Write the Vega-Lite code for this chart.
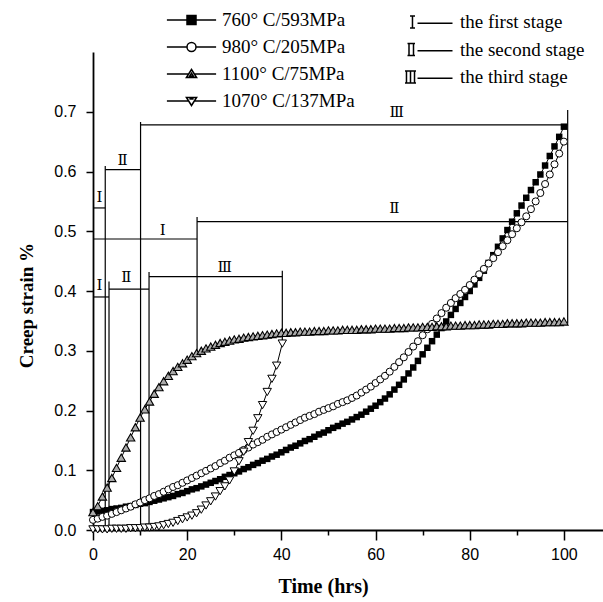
{
  "$schema": "https://vega.github.io/schema/vega-lite/v6.json",
  "width": 510,
  "height": 478,
  "autosize": {"type": "none"},
  "padding": {"left": 93, "top": 52, "right": 0, "bottom": 72},
  "background": "white",
  "config": {"view": {"stroke": null}},
  "datasets": {
    "s760": [
      {"t":0,"v":0.030},{"t":1,"v":0.031},{"t":2,"v":0.032},{"t":3,"v":0.033},{"t":4,"v":0.035},{"t":5,"v":0.036},{"t":6,"v":0.037},{"t":7,"v":0.039},{"t":8,"v":0.040},{"t":9,"v":0.042},
      {"t":10,"v":0.044},{"t":11,"v":0.045},{"t":12,"v":0.047},{"t":13,"v":0.049},{"t":14,"v":0.051},{"t":15,"v":0.053},{"t":16,"v":0.055},{"t":17,"v":0.057},{"t":18,"v":0.060},{"t":19,"v":0.062},
      {"t":20,"v":0.065},{"t":21,"v":0.068},{"t":22,"v":0.070},{"t":23,"v":0.073},{"t":24,"v":0.076},{"t":25,"v":0.079},{"t":26,"v":0.082},{"t":27,"v":0.085},{"t":28,"v":0.089},{"t":29,"v":0.092},
      {"t":30,"v":0.095},{"t":31,"v":0.098},{"t":32,"v":0.102},{"t":33,"v":0.105},{"t":34,"v":0.109},{"t":35,"v":0.112},{"t":36,"v":0.116},{"t":37,"v":0.119},{"t":38,"v":0.123},{"t":39,"v":0.126},
      {"t":40,"v":0.130},{"t":41,"v":0.134},{"t":42,"v":0.138},{"t":43,"v":0.141},{"t":44,"v":0.145},{"t":45,"v":0.149},{"t":46,"v":0.152},{"t":47,"v":0.156},{"t":48,"v":0.160},{"t":49,"v":0.163},
      {"t":50,"v":0.167},{"t":51,"v":0.171},{"t":52,"v":0.174},{"t":53,"v":0.178},{"t":54,"v":0.181},{"t":55,"v":0.185},{"t":56,"v":0.189},{"t":57,"v":0.193},{"t":58,"v":0.198},{"t":59,"v":0.203},
      {"t":60,"v":0.208},{"t":61,"v":0.214},{"t":62,"v":0.220},{"t":63,"v":0.227},{"t":64,"v":0.235},{"t":65,"v":0.243},{"t":66,"v":0.252},{"t":67,"v":0.262},{"t":68,"v":0.272},{"t":69,"v":0.283},
      {"t":70,"v":0.294},{"t":71,"v":0.305},{"t":72,"v":0.316},{"t":73,"v":0.327},{"t":74,"v":0.338},{"t":75,"v":0.349},{"t":76,"v":0.360},{"t":77,"v":0.370},{"t":78,"v":0.380},{"t":79,"v":0.390},
      {"t":80,"v":0.400},{"t":81,"v":0.411},{"t":82,"v":0.422},{"t":83,"v":0.434},{"t":84,"v":0.447},{"t":85,"v":0.460},{"t":86,"v":0.474},{"t":87,"v":0.488},{"t":88,"v":0.502},{"t":89,"v":0.516},
      {"t":90,"v":0.530},{"t":91,"v":0.543},{"t":92,"v":0.556},{"t":93,"v":0.569},{"t":94,"v":0.582},{"t":95,"v":0.595},{"t":96,"v":0.610},{"t":97,"v":0.626},{"t":98,"v":0.642},{"t":99,"v":0.658},
      {"t":100,"v":0.675}
    ],
    "s980": [
      {"t":0,"v":0.017},{"t":1,"v":0.019},{"t":2,"v":0.022},{"t":3,"v":0.024},{"t":4,"v":0.027},{"t":5,"v":0.030},{"t":6,"v":0.033},{"t":7,"v":0.036},{"t":8,"v":0.039},{"t":9,"v":0.043},
      {"t":10,"v":0.046},{"t":11,"v":0.050},{"t":12,"v":0.053},{"t":13,"v":0.057},{"t":14,"v":0.060},{"t":15,"v":0.064},{"t":16,"v":0.068},{"t":17,"v":0.072},{"t":18,"v":0.075},{"t":19,"v":0.079},
      {"t":20,"v":0.083},{"t":21,"v":0.087},{"t":22,"v":0.091},{"t":23,"v":0.095},{"t":24,"v":0.099},{"t":25,"v":0.103},{"t":26,"v":0.107},{"t":27,"v":0.112},{"t":28,"v":0.116},{"t":29,"v":0.121},
      {"t":30,"v":0.125},{"t":31,"v":0.129},{"t":32,"v":0.134},{"t":33,"v":0.138},{"t":34,"v":0.143},{"t":35,"v":0.147},{"t":36,"v":0.151},{"t":37,"v":0.156},{"t":38,"v":0.160},{"t":39,"v":0.164},
      {"t":40,"v":0.168},{"t":41,"v":0.172},{"t":42,"v":0.176},{"t":43,"v":0.180},{"t":44,"v":0.184},{"t":45,"v":0.188},{"t":46,"v":0.191},{"t":47,"v":0.194},{"t":48,"v":0.198},{"t":49,"v":0.201},
      {"t":50,"v":0.204},{"t":51,"v":0.207},{"t":52,"v":0.211},{"t":53,"v":0.214},{"t":54,"v":0.217},{"t":55,"v":0.221},{"t":56,"v":0.225},{"t":57,"v":0.230},{"t":58,"v":0.235},{"t":59,"v":0.240},
      {"t":60,"v":0.246},{"t":61,"v":0.252},{"t":62,"v":0.258},{"t":63,"v":0.265},{"t":64,"v":0.273},{"t":65,"v":0.281},{"t":66,"v":0.289},{"t":67,"v":0.298},{"t":68,"v":0.307},{"t":69,"v":0.316},
      {"t":70,"v":0.326},{"t":71,"v":0.336},{"t":72,"v":0.345},{"t":73,"v":0.354},{"t":74,"v":0.363},{"t":75,"v":0.372},{"t":76,"v":0.380},{"t":77,"v":0.388},{"t":78,"v":0.395},{"t":79,"v":0.402},
      {"t":80,"v":0.410},{"t":81,"v":0.419},{"t":82,"v":0.428},{"t":83,"v":0.437},{"t":84,"v":0.446},{"t":85,"v":0.455},{"t":86,"v":0.465},{"t":87,"v":0.475},{"t":88,"v":0.485},{"t":89,"v":0.495},
      {"t":90,"v":0.505},{"t":91,"v":0.515},{"t":92,"v":0.525},{"t":93,"v":0.537},{"t":94,"v":0.550},{"t":95,"v":0.564},{"t":96,"v":0.579},{"t":97,"v":0.595},{"t":98,"v":0.612},{"t":99,"v":0.630},
      {"t":100,"v":0.650}
    ],
    "s1100": [
      {"t":0,"v":0.030},{"t":1,"v":0.040},{"t":2,"v":0.056},{"t":3,"v":0.071},{"t":4,"v":0.087},{"t":5,"v":0.104},{"t":6,"v":0.121},{"t":7,"v":0.138},{"t":8,"v":0.155},{"t":9,"v":0.172},
      {"t":10,"v":0.188},{"t":11,"v":0.202},{"t":12,"v":0.215},{"t":13,"v":0.228},{"t":14,"v":0.239},{"t":15,"v":0.249},{"t":16,"v":0.258},{"t":17,"v":0.266},{"t":18,"v":0.273},{"t":19,"v":0.279},
      {"t":20,"v":0.285},{"t":21,"v":0.291},{"t":22,"v":0.296},{"t":23,"v":0.300},{"t":24,"v":0.304},{"t":25,"v":0.307},{"t":26,"v":0.310},{"t":27,"v":0.313},{"t":28,"v":0.315},{"t":29,"v":0.317},
      {"t":30,"v":0.319},{"t":31,"v":0.320},{"t":32,"v":0.322},{"t":33,"v":0.323},{"t":34,"v":0.324},{"t":35,"v":0.325},{"t":36,"v":0.326},{"t":37,"v":0.327},{"t":38,"v":0.328},{"t":39,"v":0.329},
      {"t":40,"v":0.330},{"t":41,"v":0.330},{"t":42,"v":0.331},{"t":43,"v":0.331},{"t":44,"v":0.332},{"t":45,"v":0.332},{"t":46,"v":0.332},{"t":47,"v":0.333},{"t":48,"v":0.333},{"t":49,"v":0.333},
      {"t":50,"v":0.334},{"t":51,"v":0.334},{"t":52,"v":0.334},{"t":53,"v":0.335},{"t":54,"v":0.335},{"t":55,"v":0.335},{"t":56,"v":0.335},{"t":57,"v":0.336},{"t":58,"v":0.336},{"t":59,"v":0.336},
      {"t":60,"v":0.337},{"t":61,"v":0.337},{"t":62,"v":0.337},{"t":63,"v":0.337},{"t":64,"v":0.338},{"t":65,"v":0.338},{"t":66,"v":0.338},{"t":67,"v":0.339},{"t":68,"v":0.339},{"t":69,"v":0.339},
      {"t":70,"v":0.340},{"t":71,"v":0.340},{"t":72,"v":0.340},{"t":73,"v":0.341},{"t":74,"v":0.341},{"t":75,"v":0.341},{"t":76,"v":0.342},{"t":77,"v":0.342},{"t":78,"v":0.342},{"t":79,"v":0.343},
      {"t":80,"v":0.343},{"t":81,"v":0.343},{"t":82,"v":0.344},{"t":83,"v":0.344},{"t":84,"v":0.344},{"t":85,"v":0.345},{"t":86,"v":0.345},{"t":87,"v":0.345},{"t":88,"v":0.346},{"t":89,"v":0.346},
      {"t":90,"v":0.346},{"t":91,"v":0.346},{"t":92,"v":0.347},{"t":93,"v":0.347},{"t":94,"v":0.347},{"t":95,"v":0.347},{"t":96,"v":0.348},{"t":97,"v":0.348},{"t":98,"v":0.348},{"t":99,"v":0.348},
      {"t":100,"v":0.349}
    ],
    "s1070": [
      {"t":0,"v":0.001},{"t":1,"v":0.001},{"t":2,"v":0.001},{"t":3,"v":0.001},{"t":4,"v":0.002},{"t":5,"v":0.002},{"t":6,"v":0.002},{"t":7,"v":0.002},{"t":8,"v":0.003},{"t":9,"v":0.003},
      {"t":10,"v":0.003},{"t":11,"v":0.004},{"t":12,"v":0.004},{"t":13,"v":0.005},{"t":14,"v":0.006},{"t":15,"v":0.008},{"t":16,"v":0.010},{"t":17,"v":0.012},{"t":18,"v":0.015},{"t":19,"v":0.018},
      {"t":20,"v":0.021},{"t":21,"v":0.024},{"t":22,"v":0.028},{"t":23,"v":0.034},{"t":24,"v":0.041},{"t":25,"v":0.048},{"t":26,"v":0.056},{"t":27,"v":0.065},{"t":28,"v":0.073},{"t":29,"v":0.083},
      {"t":30,"v":0.098},{"t":31,"v":0.115},{"t":32,"v":0.131},{"t":33,"v":0.147},{"t":34,"v":0.166},{"t":35,"v":0.187},{"t":36,"v":0.209},{"t":37,"v":0.231},{"t":38,"v":0.253},{"t":39,"v":0.275},
      {"t":40.2,"v":0.312}
    ],
    "brackets": [
      {"t":0,"t2":2.6,"v":0.539,"v2":0.539},
      {"t":2.6,"t2":10.1,"v":0.603,"v2":0.603},
      {"t":10.1,"t2":100.8,"v":0.678,"v2":0.678},
      {"t":0,"t2":22.1,"v":0.487,"v2":0.487},
      {"t":22.1,"t2":100.8,"v":0.516,"v2":0.516},
      {"t":0,"t2":3.4,"v":0.390,"v2":0.390},
      {"t":3.4,"t2":11.9,"v":0.403,"v2":0.403},
      {"t":11.9,"t2":40.2,"v":0.424,"v2":0.424},
      {"t":2.6,"t2":2.6,"v":0,"v2":0.609},
      {"t":3.4,"t2":3.4,"v":0,"v2":0.416},
      {"t":10.1,"t2":10.1,"v":0,"v2":0.683},
      {"t":11.9,"t2":11.9,"v":0,"v2":0.432},
      {"t":22.1,"t2":22.1,"v":0.29,"v2":0.524},
      {"t":40.2,"t2":40.2,"v":0.312,"v2":0.434},
      {"t":100.8,"t2":100.8,"v":0.345,"v2":0.703}
    ],
    "numerals": [
      {"t":1.4,"v":0.557,"n":"Ⅰ"},
      {"t":6.3,"v":0.619,"n":"Ⅱ"},
      {"t":64.5,"v":0.700,"n":"Ⅲ"},
      {"t":14.8,"v":0.502,"n":"Ⅰ"},
      {"t":64,"v":0.539,"n":"Ⅱ"},
      {"t":1.4,"v":0.410,"n":"Ⅰ"},
      {"t":7.1,"v":0.424,"n":"Ⅱ"},
      {"t":28,"v":0.440,"n":"Ⅲ"}
    ],
    "series": [
      {"s":"760° C/593MPa"},{"s":"980° C/205MPa"},{"s":"1100° C/75MPa"},{"s":"1070° C/137MPa"}
    ],
    "stages": [
      {"g":"the first stage"},{"g":"the second stage"},{"g":"the third stage"}
    ]
  },
  "layer": [
    {
      "data": {"name": "brackets"},
      "mark": {"type": "rule", "color": "black", "strokeWidth": 1.2},
      "encoding": {
        "x": {
          "field": "t", "type": "quantitative",
          "scale": {"domain": [0, 108.3], "nice": false, "zero": false},
          "axis": {
            "title": "Time (hrs)",
            "values": [0,10,20,30,40,50,60,70,80,90,100],
            "labelExpr": "datum.value % 20 === 0 ? datum.label : ''",
            "grid": false,
            "domainColor": "black", "domainWidth": 1.8,
            "tickColor": "black", "tickWidth": 1.5,
            "tickSize": {"condition": {"test": "datum.value % 20 === 0", "value": 10}, "value": 5},
            "labelFont": "Liberation Sans", "labelFontSize": 16, "labelColor": "black",
            "labelPadding": 6, "labelFlush": false, "labelOverlap": false,
            "titleFont": "Liberation Serif", "titleFontSize": 20, "titleFontWeight": "bold", "titleColor": "black",
            "titleX": 230, "titleY": 46
          }
        },
        "x2": {"field": "t2"},
        "y": {
          "field": "v", "type": "quantitative",
          "scale": {"domain": [0, 0.8], "nice": false, "zero": false},
          "axis": {
            "title": "Creep strain %",
            "values": [0,0.05,0.1,0.15,0.2,0.25,0.3,0.35,0.4,0.45,0.5,0.55,0.6,0.65,0.7,0.75],
            "labelExpr": "round(datum.value*20) % 2 === 0 ? format(datum.value, '.1f') : ''",
            "grid": false,
            "domainColor": "black", "domainWidth": 1.8,
            "tickColor": "black", "tickWidth": 1.5,
            "tickSize": {"condition": {"test": "round(datum.value*20) % 2 === 0", "value": 7}, "value": 4},
            "labelFont": "Liberation Sans", "labelFontSize": 16, "labelColor": "black",
            "labelPadding": 10, "labelFlush": false, "labelOverlap": false,
            "titleFont": "Liberation Serif", "titleFontSize": 19, "titleFontWeight": "bold", "titleColor": "black",
            "titleX": -57, "titleY": 253
          }
        },
        "y2": {"field": "v2"}
      }
    },
    {
      "data": {"name": "s760"},
      "mark": {"type": "line", "color": "black", "strokeWidth": 1,
        "point": {"shape": "square", "filled": true, "fill": "black", "size": 42, "opacity": 1}},
      "encoding": {"x": {"field": "t", "type": "quantitative"}, "y": {"field": "v", "type": "quantitative"}}
    },
    {
      "data": {"name": "s980"},
      "mark": {"type": "line", "color": "black", "strokeWidth": 1,
        "point": {"shape": "circle", "filled": true, "fill": "white", "stroke": "black", "strokeWidth": 1, "size": 50, "opacity": 1}},
      "encoding": {"x": {"field": "t", "type": "quantitative"}, "y": {"field": "v", "type": "quantitative"}}
    },
    {
      "data": {"name": "s1100"},
      "mark": {"type": "line", "color": "black", "strokeWidth": 1,
        "point": {"shape": "triangle-up", "filled": true, "fill": "#aaaaaa", "stroke": "black", "strokeWidth": 1.1, "size": 70, "opacity": 1}},
      "encoding": {"x": {"field": "t", "type": "quantitative"}, "y": {"field": "v", "type": "quantitative"}}
    },
    {
      "data": {"name": "s1070"},
      "mark": {"type": "line", "color": "black", "strokeWidth": 1,
        "point": {"shape": "triangle-down", "filled": true, "fill": "white", "stroke": "black", "strokeWidth": 1, "size": 70, "opacity": 1}},
      "encoding": {"x": {"field": "t", "type": "quantitative"}, "y": {"field": "v", "type": "quantitative"}}
    },
    {
      "data": {"name": "numerals"},
      "mark": {"type": "text", "font": "DejaVu Serif", "fontSize": 15, "fill": "black", "align": "center", "baseline": "middle"},
      "encoding": {
        "x": {"field": "t", "type": "quantitative"},
        "y": {"field": "v", "type": "quantitative"},
        "text": {"field": "n"}
      }
    },
    {
      "data": {"name": "series"},
      "transform": [{"filter": "false"}],
      "mark": {"type": "point", "filled": false, "color": "black", "strokeWidth": 1.5, "opacity": 1},
      "encoding": {
        "shape": {
          "field": "s", "type": "nominal",
          "scale": {
            "domain": ["760° C/593MPa","980° C/205MPa","1100° C/75MPa","1070° C/137MPa"],
            "range": [
              "M-4.1,0H4.1M-0.75,-0.75H0.75V0.75H-0.75ZM-0.75,-0.5H0.75M-0.75,-0.25H0.75M-0.75,0.25H0.75M-0.75,0.5H0.75",
              "M-4.1,0H-0.75M0.75,0H4.1M0.75,0A0.75,0.75,0,1,1,-0.75,0A0.75,0.75,0,1,1,0.75,0Z",
              "M-4.1,0H-0.47M0.47,0H4.1M0,-0.75L0.85,0.6L-0.85,0.6ZM0,-0.15L0.3,0.35L-0.3,0.35Z",
              "M-4.1,0H-0.47M0.47,0H4.1M0,0.75L0.85,-0.6L-0.85,-0.6ZM-0.35,-0.35H0.35"
            ]
          },
          "legend": {
            "orient": "none", "legendX": 89, "legendY": -41.5, "title": null,
            "labelFont": "Liberation Serif", "labelFontSize": 19, "labelColor": "black",
            "labelOffset": 21, "labelLimit": 300, "symbolSize": 144, "rowPadding": 7, "padding": 0,
            "symbolStrokeColor": "black", "symbolStrokeWidth": 1.5, "symbolFillColor": "transparent"
          }
        }
      }
    },
    {
      "data": {"name": "stages"},
      "transform": [{"filter": "false"}],
      "mark": {"type": "point", "filled": false, "color": "black", "strokeWidth": 1.5, "opacity": 1},
      "encoding": {
        "shape": {
          "field": "g", "type": "nominal",
          "scale": {
            "domain": ["the first stage","the second stage","the third stage"],
            "range": [
              "M-0.67,-1V1M-1.08,-1H-0.25M-1.08,1H-0.25M0.17,0.2H6",
              "M-1.25,-1V1M-0.5,-1V1M-1.5,-1H-0.25M-1.5,1H-0.25M0.17,0.2H6",
              "M-1.67,-1V1M-1,-1V1M-0.33,-1V1M-1.92,-1H-0.08M-1.92,1H-0.08M0.17,0.2H6"
            ]
          },
          "legend": {
            "orient": "none", "legendX": 314, "legendY": -39.5, "title": null,
            "labelFont": "Liberation Serif", "labelFontSize": 19, "labelColor": "black",
            "labelOffset": 34, "labelLimit": 300, "symbolSize": 144, "rowPadding": 7.5, "padding": 0,
            "symbolStrokeColor": "black", "symbolStrokeWidth": 1.5, "symbolFillColor": "transparent"
          }
        }
      }
    }
  ],
  "resolve": {"scale": {"shape": "independent"}, "legend": {"shape": "independent"}}
}
